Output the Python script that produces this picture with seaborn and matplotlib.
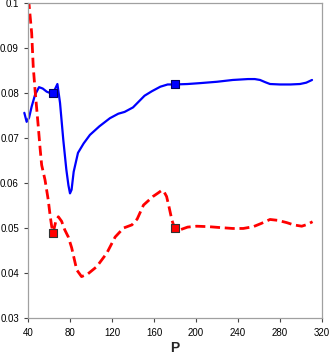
import matplotlib
matplotlib.use("Agg")
import matplotlib.pyplot as plt
import pandas as pd
import seaborn as sns

# blue solid series
blue_x = [36.5, 38.7, 41, 43.5, 46.7, 50.5, 54, 57.8, 61, 63.5, 66, 68, 70.5, 73.6, 76.5, 78.5, 80, 81.5,
          83.5, 87.6, 93, 99, 108, 118, 126, 132, 140, 151, 158, 166, 173, 180, 192, 204, 220, 235, 249.5,
          256, 261, 266, 270.5, 280, 290, 299, 305, 310.5]
blue_y = [0.0756, 0.0736, 0.0745, 0.0770, 0.0796, 0.0813, 0.0810, 0.0803, 0.0800, 0.0799, 0.0810, 0.0820,
          0.0778, 0.0696, 0.0630, 0.0595, 0.0577, 0.0585, 0.0625, 0.0667, 0.0688, 0.0707, 0.0726, 0.0744,
          0.0754, 0.0758, 0.0768, 0.0794, 0.0804, 0.0814, 0.0819, 0.0819, 0.0820, 0.0822, 0.0825, 0.0829,
          0.0831, 0.0831, 0.0829, 0.0824, 0.0820, 0.0819, 0.0819, 0.0820, 0.0823, 0.0829]

# red dashed series
red_x = [40.5, 43.5, 45, 46.7, 49.8, 51.4, 53, 56.2, 59.3, 61, 62.6, 64, 66.4, 68.9, 72, 75, 78.4, 81.6,
         86.4, 91, 97, 105.4, 115, 123, 131, 139, 144, 150, 159, 164, 167, 169, 172, 174.5, 177, 179.7,
         184.8, 192, 200.6, 212, 222.9, 235, 245, 254.6, 262, 270.5, 278, 286.4, 293, 300.7, 306, 311]
red_y = [0.1010, 0.0933, 0.0858, 0.0807, 0.0725, 0.0680, 0.0640, 0.0607, 0.0562, 0.0529, 0.0503, 0.0490,
         0.0514, 0.0525, 0.0515, 0.0496, 0.0480, 0.0456, 0.0407, 0.0392, 0.0398, 0.0414, 0.0444, 0.0480,
         0.0500, 0.0507, 0.0520, 0.0551, 0.0570, 0.0578, 0.0583, 0.0583, 0.0570, 0.0545, 0.0518, 0.0499,
         0.0496, 0.0502, 0.0504, 0.0503, 0.0501, 0.0499, 0.0499, 0.0503, 0.0510, 0.0519, 0.0517, 0.0512,
         0.0507, 0.0504, 0.0508, 0.0514]

marker_x = [64, 180]
blue_marker_y = [0.0799, 0.0819]
red_marker_y = [0.0490, 0.0499]

x_ticks = [40, 80, 120, 160, 200, 240, 280, 320]
y_ticks = [0.03, 0.04, 0.05, 0.06, 0.07, 0.08, 0.09, 0.1]
y_labels = ["0.03", "0.04", "0.05", "0.06", "0.07", "0.08", "0.09", "0.1"]

sns.set_style("white")
plt.rcParams["font.family"] = ["Liberation Sans", "DejaVu Sans"]

fig = plt.figure(figsize=(3.31, 3.55), dpi=100)
ax = fig.add_axes([0.0846, 0.1042, 0.8882, 0.8873])

blue_df = pd.DataFrame({"P": blue_x, "v": blue_y})
red_df = pd.DataFrame({"P": red_x, "v": red_y})
sns.lineplot(data=blue_df, x="P", y="v", ax=ax, color="#0000ff", linewidth=1.6, sort=False, clip_on=False)
sns.lineplot(data=red_df, x="P", y="v", ax=ax, color="#ff0000", linewidth=2.0, sort=False,
             dashes=False, linestyle=(0, (3.6, 1.7)))
sns.scatterplot(x=marker_x, y=blue_marker_y, ax=ax, marker="s", s=30, color="#0000ff",
                edgecolor="#000066", linewidth=0.8, zorder=5)
sns.scatterplot(x=marker_x, y=red_marker_y, ax=ax, marker="s", s=30, color="#ff0000",
                edgecolor="#333333", linewidth=0.8, zorder=5)

ax.set_xlim(40, 320)
ax.set_ylim(0.03, 0.1)
ax.set_xticks(x_ticks)
ax.set_yticks(y_ticks)
ax.set_yticklabels(y_labels)
ax.tick_params(axis="both", labelsize=7, colors="#444444", labelcolor="black", length=3,
               width=0.8, direction="out", bottom=True, left=True)
ax.tick_params(axis="x", pad=4)
for spine in ax.spines.values():
    spine.set_color("#a0a0a0")
    spine.set_linewidth(0.9)
ax.set_xlabel("P", fontsize=10, fontweight="bold", labelpad=2)
ax.set_ylabel("")

fig.savefig("out.png", dpi=100)
